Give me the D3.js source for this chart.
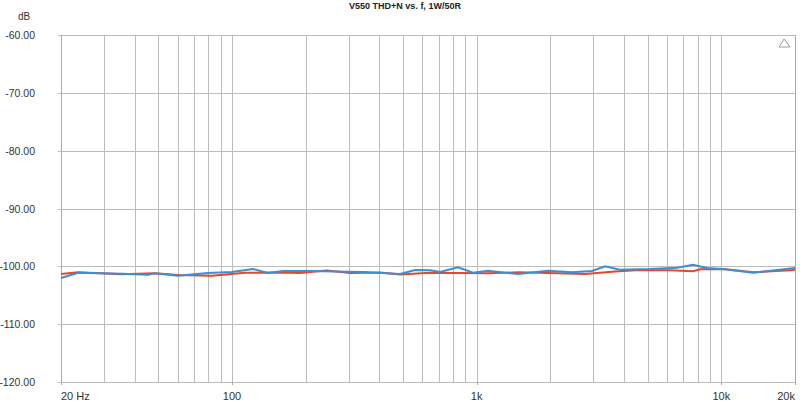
<!DOCTYPE html>
<html>
<head>
<meta charset="utf-8">
<script src="https://cdn.jsdelivr.net/npm/d3@7"></script>
<style>
  body { margin: 0; background: #fff; }
  svg { display: block; font-family: "Liberation Sans", Arial, sans-serif; }
</style>
</head>
<body>
<svg width="800" height="401"></svg>
<script>
// data (Hz, dB)
var freqRed = [20, 23.5, 35.5, 48.4, 60.1, 82.8, 113, 157, 189, 244, 304, 404, 486, 646, 839, 1112, 1476, 1956, 2772, 3676, 4652, 6166, 7660, 8183, 10152, 13468, 20000];
var thdRed = [-101.33, -101.03, -101.38, -101.21, -101.50, -101.62, -101.10, -101.07, -101.16, -100.72, -101.16, -101.07, -101.41, -101.10, -101.16, -101.21, -101.03, -101.16, -101.33, -100.90, -100.64, -100.69, -100.86, -100.52, -100.46, -101.03, -100.64];

var freqBlue = [20, 23.5, 35.5, 45.4, 48.4, 60.1, 79.8, 100, 121.8, 140, 161.5, 208, 264, 343, 486, 560, 646, 708, 839, 966, 1112, 1476, 1956, 2453, 2960, 3346, 3853, 5110, 6589, 7660, 8734, 10152, 13468, 20000];
var thdBlue = [-102.02, -101.10, -101.28, -101.45, -101.21, -101.62, -101.16, -100.98, -100.46, -101.16, -100.81, -100.81, -100.90, -100.98, -101.33, -100.64, -100.69, -100.98, -100.17, -101.10, -100.76, -101.33, -100.76, -101.03, -100.81, -100.00, -100.58, -100.46, -100.24, -99.72, -100.29, -100.46, -101.10, -100.30];

var yTicks = [-60, -70, -80, -90, -100, -110, -120];
var xGrid = [30, 40, 50, 60, 70, 80, 90, 100, 200, 300, 400, 500, 600, 700, 800, 900, 1000, 2000, 3000, 4000, 5000, 6000, 7000, 8000, 9000, 10000];
var xLabels = [
  {f: 20, text: "20 Hz", anchor: "start"},
  {f: 100, text: "100", anchor: "middle"},
  {f: 1000, text: "1k", anchor: "middle"},
  {f: 10000, text: "10k", anchor: "middle"},
  {f: 20000, text: "20k", anchor: "end"}
];

var svg = d3.select("svg");
// plot box (note: "top" is taken by window.top)
var pLeft = 61, pRight = 795, pTop = 35, pBottom = 382;
var gridColor = "#bcbcbc";

var x = d3.scaleLog().domain([20, 20000]).range([pLeft, pRight]);
var y = d3.scaleLinear().domain([-120, -60]).range([pBottom, pTop]);

// title + unit
svg.append("text")
  .attr("x", 405).attr("y", 9)
  .attr("text-anchor", "middle")
  .attr("font-size", 9).attr("font-weight", "bold")
  .attr("fill", "#222")
  .text("V550 THD+N vs. f, 1W/50R");

svg.append("text")
  .attr("x", 18).attr("y", 20)
  .attr("font-size", 10).attr("fill", "#333")
  .text("dB");

// grid
var grid = svg.append("g").attr("class", "grid");
grid.selectAll("line.v")
  .data(xGrid)
  .enter()
  .append("line")
  .attr("class", "v")
  .attr("x1", function(d) { return Math.round(x(d)) + 0.5; })
  .attr("x2", function(d) { return Math.round(x(d)) + 0.5; })
  .attr("y1", pTop).attr("y2", pBottom)
  .attr("stroke", gridColor);

grid.selectAll("line.h")
  .data(yTicks)
  .enter()
  .append("line")
  .attr("class", "h")
  .attr("x1", pLeft - 3).attr("x2", pRight)
  .attr("y1", function(d) { return Math.round(y(d)) + 0.5; })
  .attr("y2", function(d) { return Math.round(y(d)) + 0.5; })
  .attr("stroke", gridColor);

// frame
svg.append("line").attr("x1", pLeft + 0.5).attr("x2", pLeft + 0.5).attr("y1", pTop).attr("y2", pBottom).attr("stroke", "#aaa");
svg.append("line").attr("x1", pRight + 0.5).attr("x2", pRight + 0.5).attr("y1", pTop).attr("y2", pBottom + 3).attr("stroke", "#aaa");

// x ticks below the axis
svg.selectAll("line.xt")
  .data(xLabels)
  .enter()
  .append("line")
  .attr("class", "xt")
  .attr("x1", function(d) { return Math.round(x(d.f)) + 0.5; })
  .attr("x2", function(d) { return Math.round(x(d.f)) + 0.5; })
  .attr("y1", pBottom).attr("y2", pBottom + 3)
  .attr("stroke", "#aaa");

// y labels
svg.selectAll("text.yl")
  .data(yTicks)
  .enter()
  .append("text")
  .attr("class", "yl")
  .attr("x", 35)
  .attr("y", function(d) { return y(d) + 4; })
  .attr("text-anchor", "end")
  .attr("font-size", 10.5).attr("fill", "#333")
  .text(function(d) { return d.toFixed(2); });

// x labels
svg.selectAll("text.xl")
  .data(xLabels)
  .enter()
  .append("text")
  .attr("class", "xl")
  .attr("x", function(d) { return x(d.f); })
  .attr("y", 400)
  .attr("text-anchor", function(d) { return d.anchor; })
  .attr("font-size", 11).attr("fill", "#333")
  .text(function(d) { return d.text; });

// little triangle marker top right
svg.append("path")
  .attr("d", "M779,47 L784,39 L790,47 Z")
  .attr("fill", "none").attr("stroke", "#999").attr("stroke-width", 1);

// curves
var line = d3.line()
  .x(function(d) { return x(d[0]); })
  .y(function(d) { return y(d[1]); });

svg.append("path")
  .datum(d3.zip(freqRed, thdRed))
  .attr("d", line)
  .attr("fill", "none")
  .attr("stroke", "#e8452c")
  .attr("stroke-width", 2);

svg.append("path")
  .datum(d3.zip(freqBlue, thdBlue))
  .attr("d", line)
  .attr("fill", "none")
  .attr("stroke", "#3b8fd2")
  .attr("stroke-width", 2);
</script>
</body>
</html>
